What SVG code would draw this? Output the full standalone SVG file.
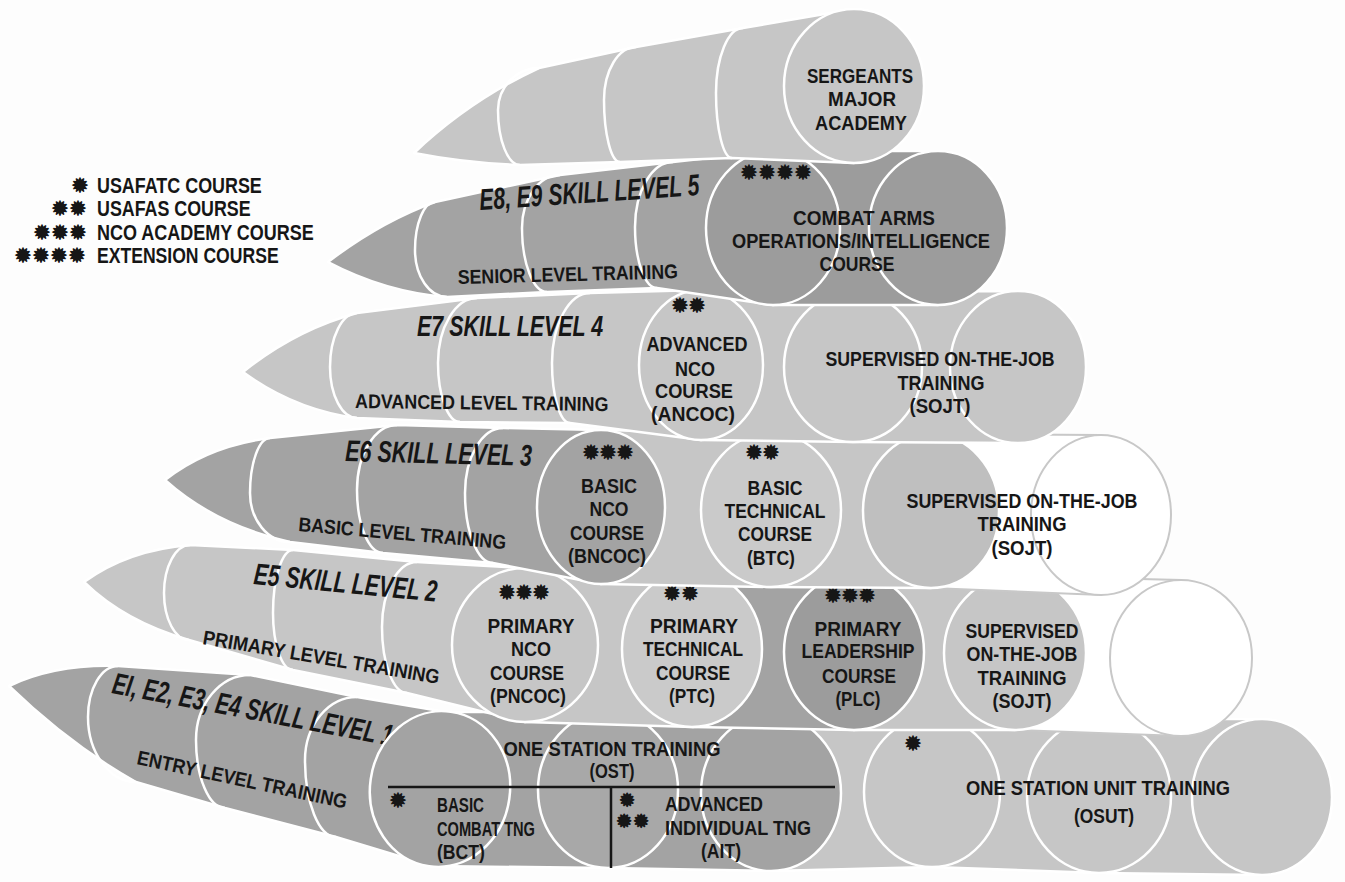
<svg xmlns="http://www.w3.org/2000/svg" width="1345" height="882" viewBox="0 0 1345 882">
<style>
.L{fill:#c6c6c6}.L2{fill:#cacaca}.G{fill:#bfbfbf}.D{fill:#a3a3a3}.D2{fill:#9c9c9c}.D3{fill:#a8a8a8}.W{fill:#ffffff}
.o{stroke:#ffffff;stroke-width:2.5;stroke-linejoin:round}
.ow{stroke:#c8c8c8;stroke-width:2}
.arc{fill:none;stroke:#ffffff;stroke-width:2.5}
.c{font-family:"Liberation Sans Narrow","Liberation Sans",Arial,sans-serif;font-weight:700;font-size:21px;fill:#161616;text-anchor:middle}
.s{text-anchor:start}
.lg{font-size:22px}
.ti{font-style:italic;font-size:30px}
.lv{font-size:20px}
.a{font-family:"DejaVu Sans",sans-serif;font-size:19px;fill:#161616;stroke:#161616;stroke-width:1.4;stroke-linejoin:round}
.a2{font-size:17px;stroke-width:1.8}
.rule{stroke:#161616;stroke-width:2.5;fill:none}
</style>
<rect width="1345" height="882" fill="#fdfdfd"/>

<g id="legend">
<text class="a" x="72" y="192">✹</text>
<text class="a" x="52 70" y="215">✹✹</text>
<text class="a" x="34 52 70" y="239">✹✹✹</text>
<text class="a" x="15 33 51 69" y="262">✹✹✹✹</text>
<text class="c s lg" transform="translate(97 193) scale(0.8 1)" textLength="206" lengthAdjust="spacingAndGlyphs">USAFATC COURSE</text>
<text class="c s lg" transform="translate(97 216) scale(0.8 1)" textLength="192" lengthAdjust="spacingAndGlyphs">USAFAS COURSE</text>
<text class="c s lg" transform="translate(97 240) scale(0.8 1)" textLength="271" lengthAdjust="spacingAndGlyphs">NCO ACADEMY COURSE</text>
<text class="c s lg" transform="translate(97 263) scale(0.8 1)" textLength="227" lengthAdjust="spacingAndGlyphs">EXTENSION COURSE</text>
</g>

<!-- bottom row: one station unit training -->
<g id="osut">
<path class="L o" d="M771,716 L932,717 L1099,719 L1262,719 L1262,875 L1099,873 L932,867 L771,871 Z"/>
<ellipse class="L o" cx="932" cy="792" rx="68" ry="75"/>
<ellipse class="L o" cx="1099" cy="796" rx="72" ry="77"/>
<ellipse class="L o" cx="1262" cy="797" rx="70" ry="78"/>
<text class="a" x="905" y="750">✹</text>
<text class="c" x="1098" y="795" textLength="264" lengthAdjust="spacingAndGlyphs">ONE STATION UNIT TRAINING</text>
<text class="c" x="1104" y="823" textLength="60" lengthAdjust="spacingAndGlyphs">(OSUT)</text>
</g>

<g id="row-e1">
<path class="D o" d="M9,686 Q55,664 118,666 L250,675 L357,697 L446,712 L608,712 L771,715 L771,871 L608,868 L432,866 L336,837 L225,808 L136,782 Q70,745 9,686 Z"/>
<path class="arc" d="M118,666 C101.4,666 88,688.8 88,717 C88,752.9 109.5,782 136,782"/>
<path class="arc" d="M250,675 C220.2,675 196,704.1 196,740 C196,777.5 209,808 225,808"/>
<path class="arc" d="M357,697 C328.3,697 305,725.2 305,760 C305,802.5 318.9,837 336,837"/>
<text class="c s ti" transform="translate(111 693) rotate(10.7) scale(0.69 1)" textLength="413" lengthAdjust="spacingAndGlyphs">EI, E2, E3, E4 SKILL LEVEL 1</text>
<text class="c s lv" transform="translate(136 764) rotate(12) scale(0.85 1)" textLength="252" lengthAdjust="spacingAndGlyphs">ENTRY LEVEL TRAINING</text>
</g>

<g id="ost">
<g id="bct">
<ellipse class="D o" cx="440" cy="789" rx="70" ry="78" transform="rotate(8 440 789)"/>
</g>
<ellipse class="D3 o" cx="608" cy="790" rx="70" ry="78"/>
<g id="ait">
<ellipse class="D o" cx="771" cy="793" rx="70" ry="78"/>
</g>
<path class="rule" d="M388,787 H835 M611,787 V868"/>
<text class="c" x="612" y="756" textLength="217" lengthAdjust="spacingAndGlyphs">ONE STATION TRAINING</text>
<text class="c" x="612" y="778" textLength="45" lengthAdjust="spacingAndGlyphs">(OST)</text>
<text class="a" x="390" y="807">✹</text>
<text class="c s" x="437" y="812" textLength="47" lengthAdjust="spacingAndGlyphs">BASIC</text>
<text class="c s" x="437" y="836" textLength="98" lengthAdjust="spacingAndGlyphs">COMBAT TNG</text>
<text class="c s" x="437" y="859" textLength="48" lengthAdjust="spacingAndGlyphs">(BCT)</text>
<text class="a a2" x="620" y="806">✹</text>
<text class="a a2" x="617 634" y="827">✹✹</text>
<text class="c s" x="665" y="811" textLength="98" lengthAdjust="spacingAndGlyphs">ADVANCED</text>
<text class="c s" x="665" y="835" textLength="146" lengthAdjust="spacingAndGlyphs">INDIVIDUAL TNG</text>
<text class="c s" x="701" y="858" textLength="40" lengthAdjust="spacingAndGlyphs">(AIT)</text>
</g>

<g id="row-e5">
<path class="L o" d="M84,582 Q128,550 190,545 L293,550 L417,562 L525,568 L525,722 L407,693 L293,670 L189,640 Q125,622 84,582 Z"/>
<path class="L o" d="M525,568 L693,571 L693,727 L525,722 Z"/>
<path class="D o" d="M693,571 L854,574 L854,730 L693,727 Z"/>
<path class="L o" d="M854,574 L1015,576 L1015,730 L854,730 Z"/>
<path class="W ow" d="M1015,576 L1181,580 L1181,736 L1015,730 Z"/>
<path class="arc" d="M190,545 C175.6,545 164,566.5 164,593 C164,618.9 175.2,640 189,640"/>
<path class="arc" d="M293,550 C282,550 273,578.2 273,613 C273,644.5 282,670 293,670"/>
<path class="arc" d="M417,562 C397.7,562 382,591.1 382,627 C382,663.4 393.2,693 407,693"/>
<text class="c s ti" transform="translate(253 584) rotate(5.5) scale(0.7 1)" textLength="263" lengthAdjust="spacingAndGlyphs">E5 SKILL LEVEL 2</text>
<text class="c s lv" transform="translate(202 644) rotate(9.6) scale(0.85 1)" textLength="282" lengthAdjust="spacingAndGlyphs">PRIMARY LEVEL TRAINING</text>
</g>

<g id="pncoc">
<ellipse class="L o" cx="525" cy="645" rx="73" ry="77"/>
<text class="a" x="499 516 533" y="599">✹✹✹</text>
<text class="c" x="531" y="633" textLength="87" lengthAdjust="spacingAndGlyphs">PRIMARY</text>
<text class="c" x="531" y="656" textLength="40" lengthAdjust="spacingAndGlyphs">NCO</text>
<text class="c" x="527" y="680" textLength="74" lengthAdjust="spacingAndGlyphs">COURSE</text>
<text class="c" x="528" y="703" textLength="76" lengthAdjust="spacingAndGlyphs">(PNCOC)</text>
</g>
<g id="ptc">
<ellipse class="L2 o" cx="692" cy="649" rx="70" ry="78"/>
<text class="a" x="664 682" y="600">✹✹</text>
<text class="c" x="694" y="633" textLength="88" lengthAdjust="spacingAndGlyphs">PRIMARY</text>
<text class="c" x="693" y="656" textLength="100" lengthAdjust="spacingAndGlyphs">TECHNICAL</text>
<text class="c" x="693" y="680" textLength="74" lengthAdjust="spacingAndGlyphs">COURSE</text>
<text class="c" x="692" y="703" textLength="46" lengthAdjust="spacingAndGlyphs">(PTC)</text>
</g>
<g id="plc">
<ellipse class="D2 o" cx="854" cy="652" rx="70" ry="78"/>
<text class="a" x="825 842 859" y="602">✹✹✹</text>
<text class="c" x="858" y="636" textLength="87" lengthAdjust="spacingAndGlyphs">PRIMARY</text>
<text class="c" x="858" y="658" textLength="113" lengthAdjust="spacingAndGlyphs">LEADERSHIP</text>
<text class="c" x="859" y="683" textLength="74" lengthAdjust="spacingAndGlyphs">COURSE</text>
<text class="c" x="858" y="706" textLength="45" lengthAdjust="spacingAndGlyphs">(PLC)</text>
</g>
<g id="sojt-e5">
<ellipse class="L o" cx="1015" cy="653" rx="71" ry="77"/>
<ellipse class="W ow" cx="1181" cy="658" rx="71" ry="78"/>
<text class="c" x="1022" y="638" textLength="113" lengthAdjust="spacingAndGlyphs">SUPERVISED</text>
<text class="c" x="1022" y="661" textLength="111" lengthAdjust="spacingAndGlyphs">ON-THE-JOB</text>
<text class="c" x="1022" y="685" textLength="89" lengthAdjust="spacingAndGlyphs">TRAINING</text>
<text class="c" x="1022" y="708" textLength="59" lengthAdjust="spacingAndGlyphs">(SOJT)</text>
</g>

<g id="row-e6">
<path class="D o" d="M165,480 Q208,446 270,438 L397,425 L503,428 L601,430 L601,584 L493,563 L383,553 L290,542 Q215,525 165,480 Z"/>
<path class="L o" d="M601,430 L771,433 L931,434 L931,588 L771,587 L601,584 Z"/>
<path class="W ow" d="M931,434 L1101,435 L1101,595 L931,588 Z"/>
<path class="arc" d="M270,438 C259,438 250,462.6 250,493 C250,520 267.9,542 290,542"/>
<path class="arc" d="M397,425 C374.9,425 357,454.1 357,490 C357,524.8 368.6,553 383,553"/>
<path class="arc" d="M503,428 C482,428 465,457.1 465,493 C465,531.6 477.5,563 493,563"/>
<text class="c s ti" transform="translate(345 461) rotate(1.5) scale(0.71 1)" textLength="263" lengthAdjust="spacingAndGlyphs">E6 SKILL LEVEL 3</text>
<text class="c s lv" transform="translate(298 531) rotate(5) scale(0.85 1)" textLength="245" lengthAdjust="spacingAndGlyphs">BASIC LEVEL TRAINING</text>
</g>

<g id="bncoc">
<ellipse class="D o" cx="601" cy="507" rx="64" ry="77"/>
<text class="a" x="583 600 617" y="459">✹✹✹</text>
<text class="c" x="609" y="493" textLength="56" lengthAdjust="spacingAndGlyphs">BASIC</text>
<text class="c" x="609" y="516" textLength="39" lengthAdjust="spacingAndGlyphs">NCO</text>
<text class="c" x="607" y="540" textLength="74" lengthAdjust="spacingAndGlyphs">COURSE</text>
<text class="c" x="607" y="563" textLength="78" lengthAdjust="spacingAndGlyphs">(BNCOC)</text>
</g>
<g id="btc">
<ellipse class="L2 o" cx="771" cy="510" rx="70" ry="77"/>
<text class="a" x="746 763" y="459">✹✹</text>
<text class="c" x="775" y="495" textLength="55" lengthAdjust="spacingAndGlyphs">BASIC</text>
<text class="c" x="775" y="518" textLength="101" lengthAdjust="spacingAndGlyphs">TECHNICAL</text>
<text class="c" x="775" y="541" textLength="74" lengthAdjust="spacingAndGlyphs">COURSE</text>
<text class="c" x="771" y="565" textLength="48" lengthAdjust="spacingAndGlyphs">(BTC)</text>
</g>
<g id="sojt-e6">
<ellipse class="G o" cx="931" cy="511" rx="68" ry="77"/>
<ellipse class="W ow" cx="1101" cy="515" rx="70" ry="80"/>
<text class="c" x="1022" y="508" textLength="231" lengthAdjust="spacingAndGlyphs">SUPERVISED ON-THE-JOB</text>
<text class="c" x="1022" y="531" textLength="89" lengthAdjust="spacingAndGlyphs">TRAINING</text>
<text class="c" x="1022" y="555" textLength="61" lengthAdjust="spacingAndGlyphs">(SOJT)</text>
</g>

<g id="row-e7">
<path class="L o" d="M243,372 Q295,330 357,313 L477,298 L590,293 L701,290 L701,440 L570,423 L460,422 L357,418 Q295,410 243,372 Z"/>
<path class="L o" d="M701,290 L853,292 L1018,291 L1018,443 L853,442 L701,440 Z"/>
<path class="arc" d="M357,313 C342.1,313 330,337.2 330,367 C330,395.2 342.1,418 357,418"/>
<path class="arc" d="M477,298 C455.5,298 438,327.1 438,363 C438,395.6 447.9,422 460,422"/>
<path class="arc" d="M590,293 C569,293 552,324.4 552,363 C552,396.1 560.1,423 570,423"/>
<text class="c s ti" transform="translate(417 336) scale(0.7 1)" textLength="266" lengthAdjust="spacingAndGlyphs">E7 SKILL LEVEL 4</text>
<text class="c s lv" transform="translate(355 408) rotate(0.7) scale(0.85 1)" textLength="298" lengthAdjust="spacingAndGlyphs">ADVANCED LEVEL TRAINING</text>
</g>

<g id="ancoc">
<ellipse class="L o" cx="701" cy="365" rx="62" ry="75"/>
<text class="a" x="672 689" y="312">✹✹</text>
<text class="c" x="697" y="351" textLength="101" lengthAdjust="spacingAndGlyphs">ADVANCED</text>
<text class="c" x="695" y="376" textLength="40" lengthAdjust="spacingAndGlyphs">NCO</text>
<text class="c" x="694" y="398" textLength="78" lengthAdjust="spacingAndGlyphs">COURSE</text>
<text class="c" x="693" y="421" textLength="84" lengthAdjust="spacingAndGlyphs">(ANCOC)</text>
</g>
<g id="sojt-e7">
<ellipse class="L o" cx="853" cy="367" rx="69" ry="75"/>
<ellipse class="L o" cx="1018" cy="367" rx="68" ry="76"/>
<text class="c" x="940" y="366" textLength="229" lengthAdjust="spacingAndGlyphs">SUPERVISED ON-THE-JOB</text>
<text class="c" x="941" y="390" textLength="87" lengthAdjust="spacingAndGlyphs">TRAINING</text>
<text class="c" x="940" y="413" textLength="61" lengthAdjust="spacingAndGlyphs">(SOJT)</text>
</g>

<g id="row-e8">
<path class="D o" d="M328,262 Q380,222 435,202 L560,175 L673,162 L773,151 L773,305 L657,288 L547,292 L447,297 Q385,292 328,262 Z"/>
<path class="D2 o" d="M773,151 L938,151 L938,305 L773,305 Z"/>
<path class="arc" d="M435,202 C424,202 415,223.5 415,250 C415,276.2 429.3,297 447,297"/>
<path class="arc" d="M560,175 C539,175 522,198.7 522,228 C522,263.3 533.2,292 547,292"/>
<path class="arc" d="M673,162 C652,162 635,191.1 635,227 C635,260.7 644.9,288 657,288"/>
<text class="c s ti" transform="translate(480 210) rotate(-3.9) scale(0.68 1)" textLength="324" lengthAdjust="spacingAndGlyphs">E8, E9 SKILL LEVEL 5</text>
<text class="c s lv" transform="translate(458 284) rotate(-1.5) scale(0.85 1)" textLength="259" lengthAdjust="spacingAndGlyphs">SENIOR LEVEL TRAINING</text>
</g>

<g id="combat-arms">
<ellipse class="D2 o" cx="773" cy="228" rx="67" ry="77"/>
<ellipse class="D2 o" cx="938" cy="228" rx="69" ry="77"/>
<text class="a" x="741 759 777 795" y="179">✹✹✹✹</text>
<text class="c" x="864" y="225" textLength="142" lengthAdjust="spacingAndGlyphs">COMBAT ARMS</text>
<text class="c" x="861" y="248" textLength="258" lengthAdjust="spacingAndGlyphs">OPERATIONS/INTELLIGENCE</text>
<text class="c" x="857" y="271" textLength="75" lengthAdjust="spacingAndGlyphs">COURSE</text>
</g>

<g id="row-sma">
<path class="L o" d="M414,153 Q470,100 539,68 L636,47 L743,28 L854,9 L854,163 L732,158 L620,162 L520,165 Q465,163 414,153 Z"/>
<path class="arc" d="M539,68 C516.4,68 498,86.8 498,110 C498,140.4 507.9,165 520,165"/>
<path class="arc" d="M636,47 C618.3,47 604,70.7 604,100 C604,134.2 611.2,162 620,162"/>
<path class="arc" d="M743,28 C728.1,28 716,57.1 716,93 C716,128.9 723.2,158 732,158"/>
</g>
<g id="sergeants-major-academy">
<ellipse class="L o" cx="854" cy="86" rx="70" ry="77"/>
<text class="c" x="860" y="83" textLength="106" lengthAdjust="spacingAndGlyphs">SERGEANTS</text>
<text class="c" x="862" y="106" textLength="68" lengthAdjust="spacingAndGlyphs">MAJOR</text>
<text class="c" x="861" y="130" textLength="92" lengthAdjust="spacingAndGlyphs">ACADEMY</text>
</g>
</svg>
